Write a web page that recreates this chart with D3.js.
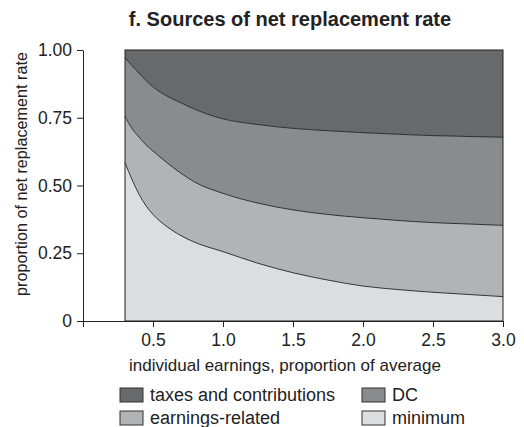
<!DOCTYPE html>
<html><head><meta charset="utf-8">
<script src="https://cdn.jsdelivr.net/npm/d3@7"></script>
<style>
html,body{margin:0;padding:0;background:#fff;}
text{font-family:"Liberation Sans",Arial,sans-serif;fill:#222;}
</style></head>
<body><svg id="c" width="524" height="427"></svg>
<script>
// earnings (proportion of average)
const earnings = [0.3, 0.35, 0.4, 0.45, 0.5, 0.6, 0.7, 0.8, 1.0, 1.25, 1.5, 1.75, 2.0, 2.25, 2.5, 2.75, 3.0];
// component shares of net replacement rate
const minimum        = [0.584, 0.522, 0.468, 0.425, 0.393, 0.348, 0.315, 0.29, 0.256, 0.213, 0.178, 0.151, 0.129, 0.116, 0.106, 0.098, 0.090];
const earningsRelated= [0.172, 0.188, 0.211, 0.225, 0.234, 0.236, 0.23, 0.222, 0.215, 0.222, 0.232, 0.242, 0.252, 0.255, 0.257, 0.260, 0.263];
const dc             = [0.216, 0.232, 0.236, 0.237, 0.237, 0.246, 0.26, 0.269, 0.275, 0.29, 0.301, 0.309, 0.314, 0.318, 0.321, 0.323, 0.325];
const taxes          = [0.028, 0.058, 0.085, 0.113, 0.136, 0.17, 0.195, 0.219, 0.254, 0.275, 0.289, 0.298, 0.305, 0.311, 0.316, 0.319, 0.322];
const seriesNames = ["minimum", "earnings-related", "DC", "taxes and contributions"];
const seriesColors = ["#dcdddf", "#b1b4b6", "#8a8b8d", "#68696b"];
const xTicks = [0, 0.5, 1.0, 1.5, 2.0, 2.5, 3.0];
const yTicks = [0, 0.25, 0.5, 0.75, 1.0];
const yTickLabels = ["0", "0.25", "0.50", "0.75", "1.00"];

const svg = d3.select("#c");
const x = d3.scaleLinear().domain([0, 3]).range([83, 503]);
const y = d3.scaleLinear().domain([0, 1]).range([321, 50]);

const rows = earnings.map((e, i) => ({e, "minimum": minimum[i], "earnings-related": earningsRelated[i], "DC": dc[i], "taxes and contributions": taxes[i]}));
const stack = d3.stack().keys(seriesNames)(rows);

const area = d3.area().x(d => x(d.data.e)).y0(d => y(d[0])).y1(d => y(d[1])).curve(d3.curveMonotoneX);
const line = d3.line().x(d => x(d.data.e)).y(d => y(d[1])).curve(d3.curveMonotoneX);

svg.append("g").selectAll("path").data(stack).join("path")
  .attr("d", area).attr("fill", (d, i) => seriesColors[i]).attr("stroke", "none");
svg.append("g").selectAll("path").data(stack.slice(0, 3)).join("path")
  .attr("d", line).attr("fill", "none").attr("stroke", "#222").attr("stroke-width", 0.9);
// outline
svg.append("rect").attr("x", x(earnings[0])).attr("y", y(1)).attr("width", x(earnings[earnings.length-1]) - x(earnings[0]))
  .attr("height", y(0) - y(1)).attr("fill", "none").attr("stroke", "#222").attr("stroke-width", 1);

// axes
const xa = svg.append("g").attr("transform", `translate(0,${y(0)})`)
  .call(d3.axisBottom(x).tickValues(xTicks).tickFormat(d => d === 0 ? "" : d3.format(".1f")(d)).tickSize(6).tickSizeOuter(0).tickPadding(7));
const ya = svg.append("g").attr("transform", `translate(${x(0)},0)`)
  .call(d3.axisLeft(y).tickValues(yTicks).tickFormat((d, i) => yTickLabels[i]).tickSize(6).tickSizeOuter(0).tickPadding(5));
[xa, ya].forEach(a => {
  a.selectAll("path,line").attr("stroke", "#222").attr("stroke-width", 1);
  a.selectAll("text").attr("font-size", 17.5).attr("font-family", '"Liberation Sans",Arial,sans-serif').attr("fill", "#222");
});

svg.append("text").attr("x", 290).attr("y", 26).attr("text-anchor", "middle")
  .attr("font-size", 20).attr("font-weight", "bold").text("f. Sources of net replacement rate");
svg.append("text").attr("x", 285).attr("y", 371).attr("text-anchor", "middle")
  .attr("font-size", 17).text("individual earnings, proportion of average");
svg.append("text").attr("transform", `translate(27,174) rotate(-90)`).attr("text-anchor", "middle")
  .attr("font-size", 16.2).text("proportion of net replacement rate");

// legend
const legendOrder = [3, 2, 1, 0];
const legPos = [[120, 388], [362, 388], [120, 411], [362, 411]];
legendOrder.forEach((si, k) => {
  const [lx, ly] = legPos[k];
  svg.append("rect").attr("x", lx).attr("y", ly).attr("width", 23).attr("height", 14)
    .attr("fill", seriesColors[si]).attr("stroke", "#333").attr("stroke-width", 1);
  svg.append("text").attr("x", lx + 30).attr("y", ly + 13).attr("font-size", 18).text(seriesNames[si]);
});
</script></body></html>
